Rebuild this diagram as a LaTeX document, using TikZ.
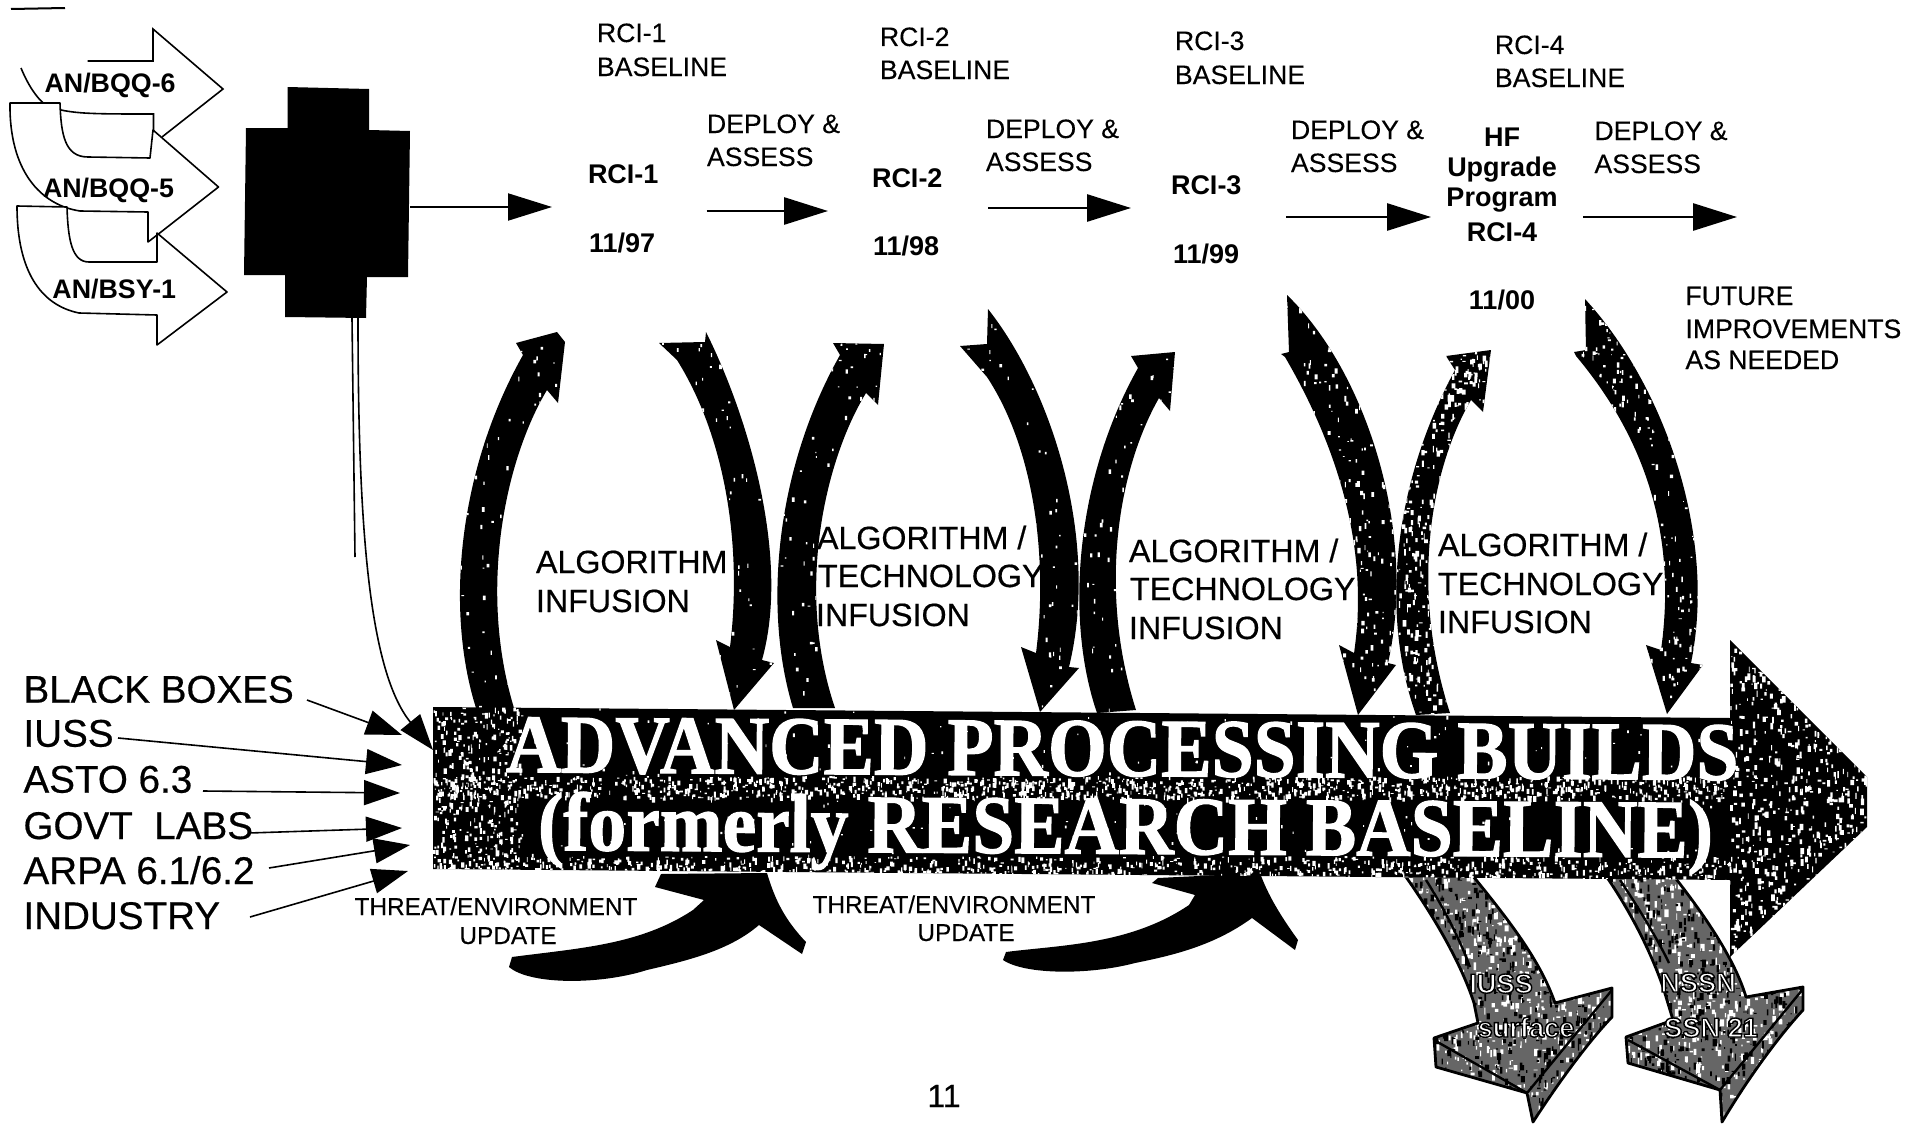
\documentclass[tikz,border=0pt]{standalone}
\usepackage{fontspec}
\usepackage{graphicx}
\setmainfont{Liberation Sans}
\newfontfamily\tnr{Liberation Serif}
\usetikzlibrary{arrows.meta}
\newcommand\specks[7]{\fill[#6] \foreach \k in {1,...,#1} {({#2+rnd*(#4-#2)},{#3+rnd*(#5-#3)}) rectangle ++({0.8+rnd*#7},{0.8+rnd*2*#7})};}
\newcommand\halo[2]{\special{pdf:code q 2 Tr #1 w 0 0 0 RG}#2\special{pdf:code Q}}
% outlines of the large shapes
\def\PUa{(476,708) .. controls (445,610) and (458,470) .. (523,355) -- (516,343) -- (557,332) -- (565,342) -- (558,403) -- (547,390) .. controls (505,460) and (478,590) .. (514,708) -- cycle}
\def\PDa{(659,343) -- (705,342) -- (706,332) .. controls (750,420) and (790,560) .. (762,660) -- (774,663) -- (734,710) -- (716,640) -- (730,647) .. controls (742,550) and (727,440) .. (677,360) -- cycle}
\def\PUb{(793,708) .. controls (763,610) and (775,470) .. (840,355) -- (833,343) -- (884,344) -- (878,405) -- (866,393) .. controls (825,460) and (795,590) .. (835,708) -- cycle}
\def\PDb{(960,346) -- (987,344) -- (988,309) .. controls (1052,390) and (1100,540) .. (1069,667) -- (1079,668) -- (1040,712) -- (1021,647) -- (1036,653) .. controls (1048,560) and (1035,450) .. (987,377) -- cycle}
\def\PUc{(1097,713) .. controls (1065,620) and (1075,480) .. (1138,368) -- (1131,356) -- (1175,352) -- (1170,411) -- (1159,398) .. controls (1118,470) and (1098,590) .. (1136,710) -- cycle}
\def\PDc{(1281,354) -- (1289,352) -- (1287,295) .. controls (1365,370) and (1418,530) .. (1388,663) -- (1396,665) -- (1358,715) -- (1339,645) -- (1354,653) .. controls (1368,560) and (1345,460) .. (1285,357) -- cycle}
\def\PUd{(1416,715) .. controls (1382,620) and (1390,490) .. (1455,370) -- (1446,356) -- (1491,350) -- (1483,412) -- (1471,400) .. controls (1430,470) and (1410,590) .. (1450,713) -- cycle}
\def\PDd{(1574,352) -- (1586,350) -- (1585,299) .. controls (1660,380) and (1718,530) .. (1691,663) -- (1703,665) -- (1667,714) -- (1646,645) -- (1661,650) .. controls (1675,550) and (1655,450) .. (1576,356) -- cycle}
\def\PBan{(433,707) -- (1730,718) -- (1730,640) -- (1867,777) -- (1867,827) -- (1730,957) -- (1730,880) -- (433,869) -- cycle}
\def\PBa{(1401,870) -- (1468,870) .. controls (1509,920) and (1540,960) .. (1555,1003) -- (1612,988) -- (1612,1017) .. controls (1590,1040) and (1560,1080) .. (1533,1122) -- (1527,1093) -- (1436,1067) -- (1434,1038) -- (1478,1023) -- (1474,1003) .. controls (1460,960) and (1430,910) .. (1401,870) -- cycle}
\def\PBb{(1602,870) -- (1669,870) .. controls (1705,915) and (1735,960) .. (1746,997) -- (1803,987) -- (1803,1010) .. controls (1780,1035) and (1750,1075) .. (1722,1122) -- (1720,1090) -- (1628,1063) -- (1626,1037) -- (1673,1020) -- (1663,987) .. controls (1650,950) and (1630,910) .. (1602,870) -- cycle}
\begin{document}
\begin{tikzpicture}[x=0.5pt,y=-0.5pt,
  every node/.style={inner sep=0pt,outer sep=0pt,anchor=base west},
  thinline/.style={line width=0.8pt},
  bigflow/.style={line width=1.4pt,-{Triangle[length=22pt,width=13.5pt]}},
  feed/.style={line width=0.8pt,-{Triangle[length=18pt,width=12.5pt]}},
  sensor/.style={thinline,fill=white,line join=round},
  sensortxt/.style={font=\fontsize{13.4}{13.4}\selectfont\bfseries},
  rciplain/.style={font=\fontsize{13.3}{13.3}\selectfont\addfontfeature{FakeBold=0.2}},
  rcibold/.style={font=\fontsize{13.5}{13.5}\selectfont\bfseries},
  boldc/.style={rcibold,anchor=base},
  infuse/.style={font=\fontsize{16.1}{16.1}\selectfont\addfontfeature{FakeBold=0.5}},
  srcs/.style={font=\fontsize{19.3}{19.3}\selectfont\addfontfeature{FakeBold=0.5}},
  threat/.style={font=\fontsize{12.2}{12.2}\selectfont\addfontfeature{FakeBold=0.2},anchor=base},
  future/.style={font=\fontsize{13.3}{13.3}\selectfont\addfontfeature{FakeBold=0.5}},
  bantxt/.style={font=\fontsize{41.5}{41.5}\selectfont\tnr\bfseries\addfontfeature{FakeBold=1.5},text=white,rotate=-0.37},
  outtxt/.style={font=\fontsize{13.6}{13.6}\selectfont\bfseries,text=white,anchor=base}
]
\useasboundingbox (0,0) rectangle (1919,1124);
\fill[white] (0,0) rectangle (1919,1124);
\pgfmathsetseed{11}

% top-left tick
\coordinate (tickA) at (65,8); \coordinate (tickB) at (11,9);
\draw[line width=1pt] (tickA) -- (tickB);

% sensor arrows
\draw[thinline] (87.5,61) -- (153,61) -- (153,29) -- (223,89) -- (162,137);
\draw[thinline] (21,68) .. controls (30,90) and (45,112) .. (61,110) .. controls (80,114) and (100,114) .. (153.5,114) -- (153.5,130);
\draw[sensor] (10,103) -- (60,103) .. controls (61,135) and (65,157) .. (88,157) -- (150,158) -- (153,130) -- (218.5,187) -- (161,232) -- (148,242) -- (148,212) -- (80,211) .. controls (40,205) and (9,170) .. (10,103) -- cycle;
\draw[sensor] (17,206) -- (67,207) .. controls (68,240) and (72,262) .. (89,262) -- (157,262) -- (157,233) -- (227,292) -- (157,345) -- (157,315) -- (79,313) .. controls (40,305) and (17,270) .. (17,206) -- cycle;
\node[sensortxt] (sA) at (44.6,92) {AN/BQQ-6};
\node[sensortxt] (sB) at (43,197) {AN/BQQ-5};
\node[sensortxt] (sC) at (52.5,298) {AN/BSY-1};

% black box
\fill[black] (287.5,87) -- (369,89) -- (369,130) -- (410,131) -- (408,277) -- (367,277) -- (366,318) -- (285,317) -- (285,275) -- (244,275) -- (246,128) -- (287.5,128) -- cycle;
\coordinate (boxE) at (410,207); \coordinate (rciIn) at (552,207);
\draw[bigflow,line width=1pt] (boxE) -- (rciIn);
\coordinate (boxSa) at (352,318); \coordinate (boxSb) at (358,318);
\coordinate (stubEnd) at (355,557); \coordinate (banIn) at (433,750);
\draw[thinline] (boxSa) -- (stubEnd);
\draw[feed] (boxSb) .. controls (358,520) and (368,670) .. (banIn);

% baselines
\node[rciplain] (b1a) at (597,42) {RCI-1};
\node[rciplain] (b1b) at (597,76) {BASELINE};
\node[rciplain] (b2a) at (880,46) {RCI-2};
\node[rciplain] (b2b) at (880,79) {BASELINE};
\node[rciplain] (b3a) at (1175,50) {RCI-3};
\node[rciplain] (b3b) at (1175,84) {BASELINE};
\node[rciplain] (b4a) at (1495,54) {RCI-4};
\node[rciplain] (b4b) at (1495,87) {BASELINE};
% deploy
\node[rciplain] (d1a) at (707,133) {DEPLOY \&};
\node[rciplain] (d1b) at (707,166) {ASSESS};
\node[rciplain] (d2a) at (986,138) {DEPLOY \&};
\node[rciplain] (d2b) at (986,171) {ASSESS};
\node[rciplain] (d3a) at (1291,139) {DEPLOY \&};
\node[rciplain] (d3b) at (1291,172) {ASSESS};
\node[rciplain] (d4a) at (1594.5,140) {DEPLOY \&};
\node[rciplain] (d4b) at (1594.5,173) {ASSESS};
% releases
\node[rcibold] (r1) at (588,183) {RCI-1};
\node[rcibold] (r1d) at (589,252) {11/97};
\node[rcibold] (r2) at (872,187) {RCI-2};
\node[rcibold] (r2d) at (873,255) {11/98};
\node[rcibold] (r3) at (1171,194) {RCI-3};
\node[rcibold] (r3d) at (1173,263) {11/99};
\node[boldc] (r4a) at (1502,146) {HF};
\node[boldc] (r4b) at (1502,176) {Upgrade};
\node[boldc] (r4c) at (1502,206) {Program};
\node[boldc] (r4e) at (1502,241) {RCI-4};
\node[boldc] (r4d) at (1502,309) {11/00};
% deploy arrows
\coordinate (a1s) at (706.6,211); \coordinate (a1e) at (828,211);
\coordinate (a2s) at (988,208); \coordinate (a2e) at (1131,208);
\coordinate (a3s) at (1286,217); \coordinate (a3e) at (1431,217);
\coordinate (a4s) at (1583,217); \coordinate (a4e) at (1737,217);
\draw[bigflow] (a1s) -- (a1e);
\draw[bigflow] (a2s) -- (a2e);
\draw[bigflow] (a3s) -- (a3e);
\draw[bigflow] (a4s) -- (a4e);
\node[future] (f1) at (1685.5,305) {FUTURE};
\node[future] (f2) at (1685.5,338) {IMPROVEMENTS};
\node[future] (f3) at (1685.5,369) {AS NEEDED};

% lower feeder arrows behind the banner
\fill[black!60] \PBa; \fill[black!60] \PBb;
\begin{scope}\clip \PBa; \specks{750}{1400}{870}{1615}{1125}{white}{3.5} \specks{650}{1400}{870}{1615}{1125}{black}{3.5}\end{scope}
\begin{scope}\clip \PBb; \specks{750}{1600}{870}{1805}{1125}{white}{3.5} \specks{650}{1600}{870}{1805}{1125}{black}{3.5}\end{scope}
\draw[line width=1.4pt,line join=round] \PBa; \draw[line width=1.4pt,line join=round] \PBb;
\draw[line width=1.2pt] (1426,880) .. controls (1445,910) and (1460,940) .. (1470,967);
\draw[line width=1.2pt] (1620,880) .. controls (1640,910) and (1658,940) .. (1669,963);
\draw[line width=1.2pt,line join=round] (1434,1040) -- (1527,1093) -- (1612,990);
\draw[line width=1.2pt,line join=round] (1628,1040) -- (1720,1090) -- (1803,989);

% threat arrows
\fill[black] (661,874) -- (655,887) -- (704,900) -- (693,910) .. controls (640,945) and (580,948) .. (512,957) -- (509,967) .. controls (530,985) and (600,985) .. (647,970) .. controls (690,960) and (730,950) .. (759,925) -- (802,954) -- (806,942) .. controls (785,920) and (775,900) .. (767,873) -- cycle;
\fill[black] (1158,878) -- (1152,883) -- (1195,895) -- (1189,905) .. controls (1130,945) and (1060,945) .. (1006,952) -- (1003,960) .. controls (1025,975) and (1090,975) .. (1135,963) .. controls (1175,955) and (1215,945) .. (1252,918) -- (1295,950) -- (1298,940) .. controls (1280,915) and (1268,895) .. (1260,873) -- cycle;

% big curved arrows
\foreach \p/\n/\s/\xa/\xb in {\PUa/120/2/455/570,\PDa/120/2/655/780,\PUb/120/2/775/890,\PDb/110/2/955/1085,\PUc/130/2/1075/1180,\PDc/400/2.5/1280/1400,\PUd/800/3/1395/1495,\PDd/500/2.5/1570/1705}{
  \fill[black] \p;
  \begin{scope}\clip \p; \specks{\n}{\xa}{290}{\xb}{720}{white}{\s}\end{scope}
}

% banner
\fill[black] \PBan;
\begin{scope}\clip \PBan;
  \specks{350}{433}{707}{520}{870}{white}{2.5}
  \specks{1200}{433}{776}{1730}{798}{white}{2.5}
  \specks{1100}{433}{856}{1730}{882}{white}{2.5}
  \specks{800}{1730}{640}{1870}{960}{white}{3}
  \specks{300}{433}{707}{1730}{880}{white}{1.5}
\end{scope}
\node[bantxt] (ban1) at (506,772) {\scalebox{0.91}[1]{ADVANCED PROCESSING BUILDS}};
\node[bantxt] (ban2) at (538,850) {\scalebox{0.91}[1]{(formerly RESEARCH BASELINE)}};

% labels on feeders
\node[outtxt] (o1) at (1501,993) {\halo{0.7}{IUSS}};
\node[outtxt] (o2) at (1526,1037) {\halo{0.7}{surface}};
\node[outtxt] (o3) at (1698,992) {\halo{0.7}{NSSN}};
\node[outtxt] (o4) at (1711,1037) {\halo{0.7}{SSN 21}};

% infusion labels
\node[infuse] (i1a) at (536,573) {ALGORITHM};
\node[infuse] (i1b) at (536,612) {INFUSION};
\node[infuse] (i2a) at (817,549) {ALGORITHM /};
\node[infuse] (i2b) at (818,587) {TECHNOLOGY};
\node[infuse] (i2c) at (816,626) {INFUSION};
\node[infuse] (i3a) at (1129,562) {ALGORITHM /};
\node[infuse] (i3b) at (1130,600) {TECHNOLOGY};
\node[infuse] (i3c) at (1129,639) {INFUSION};
\node[infuse] (i4a) at (1438,556) {ALGORITHM /};
\node[infuse] (i4b) at (1438,595) {TECHNOLOGY};
\node[infuse] (i4c) at (1438,633) {INFUSION};

% threat labels
\node[threat] (t1a) at (496,915) {THREAT/ENVIRONMENT};
\node[threat] (t1b) at (508,944) {UPDATE};
\node[threat] (t2a) at (954,913) {THREAT/ENVIRONMENT};
\node[threat] (t2b) at (966,941) {UPDATE};

% inputs
\node[srcs] (n1) at (23.5,702.7) {BLACK BOXES};
\node[srcs] (n2) at (23.5,746.7) {IUSS};
\node[srcs] (n3) at (23.5,792.7) {ASTO 6.3};
\node[srcs] (n4) at (23.5,839) {GOVT\ \ LABS};
\node[srcs] (n5) at (23.5,884) {ARPA 6.1/6.2};
\node[srcs] (n6) at (23.5,929) {INDUSTRY};
\coordinate (e1s) at (307,700); \coordinate (e1) at (402,735);
\coordinate (e2s) at (118,738); \coordinate (e2) at (402,765);
\coordinate (e3s) at (203,791); \coordinate (e3) at (400,793);
\coordinate (e4s) at (249,833); \coordinate (e4) at (402,828);
\coordinate (e5s) at (269,868); \coordinate (e5) at (410,845);
\coordinate (e6s) at (250,917); \coordinate (e6) at (408,871);
\draw[feed] (e1s) -- (e1);
\draw[feed] (e2s) -- (e2);
\draw[feed] (e3s) -- (e3);
\draw[feed] (e4s) -- (e4);
\draw[feed] (e5s) -- (e5);
\draw[feed] (e6s) -- (e6);

\node[font=\fontsize{16}{16}\selectfont\addfontfeature{FakeBold=0.5},anchor=base] (pg) at (944,1107) {11};
\end{tikzpicture}
\end{document}
